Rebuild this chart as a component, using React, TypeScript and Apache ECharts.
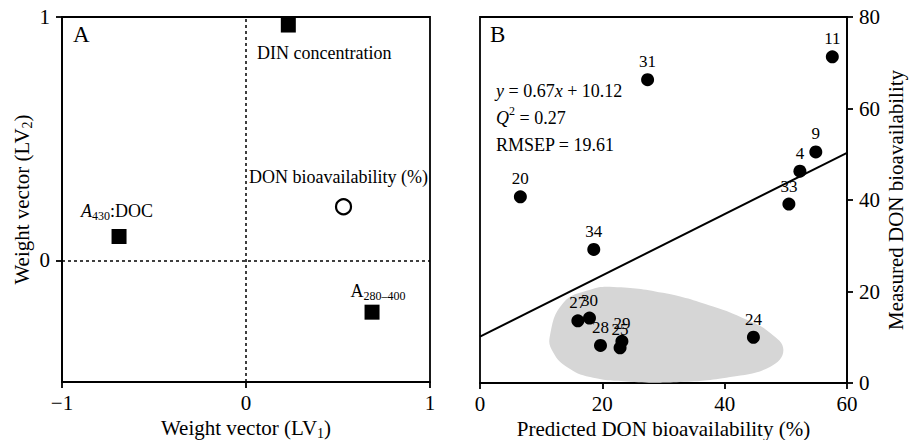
import React, { useEffect, useRef } from "react";
import * as echarts from "echarts";

const FONT = "'Liberation Serif', 'Times New Roman', Times, serif";

// Panel A: weight vectors
const sqNames = ["DIN concentration", "A430:DOC", "A280-400"];
const sqX = [0.23, -0.69, 0.685];
const sqY = [0.967, 0.098, -0.213];
const circX = [0.53];
const circY = [0.22];

// Panel B: predicted vs measured
const bLabels = ["11", "31", "9", "4", "33", "20", "34", "27", "30", "28", "29", "25", "24"];
const bX = [57.6, 27.4, 54.9, 52.3, 50.5, 6.6, 18.6, 16.0, 17.9, 19.7, 23.2, 22.9, 44.7];
const bY = [71.3, 66.3, 50.5, 46.3, 39.1, 40.7, 29.2, 13.6, 14.2, 8.2, 9.1, 7.7, 10.0];
const lineX = [0, 60];
const lineY = [10.12, 50.32];
const blobX = [11.4, 13.6, 18.0, 21.8, 29.9, 38.1, 43.6, 47.4, 49.6, 47.4, 40.9, 32.7, 24.5, 18.0, 14.2, 12.0];
const blobY = [10.1, 17.5, 20.4, 21.0, 19.7, 16.7, 13.8, 11.0, 7.2, 3.5, 1.3, 0.2, 0.3, 1.3, 3.5, 6.6];

const aXTicks = [-1, 0, 1];
const aYTicks = [0, 1];

const fmtNum = (v: number) => (v < 0 ? "\u2212" + Math.abs(v) : String(v));

export default function App() {
  const ref = useRef<HTMLDivElement>(null);
  useEffect(() => {
    if (!ref.current) return;
    const chart = echarts.init(ref.current, null, { renderer: "svg" });
    const axisLine = { show: true, onZero: false, lineStyle: { color: "#000", width: 1.8 } };
    const axisLabel = { color: "#000", fontFamily: FONT, fontSize: 21 };
    const nameStyle = {
      color: "#000",
      fontFamily: FONT,
      fontSize: 21,
      rich: {
        n: { fontFamily: FONT, fontSize: 21, color: "#000", lineHeight: 24 },
        sub: { fontFamily: FONT, fontSize: 14, color: "#000", lineHeight: 14, padding: [8, 0, 0, 0], verticalAlign: "bottom" },
      },
    };
    const plainName = { color: "#000", fontFamily: FONT, fontSize: 21 };
    const lblRich = {
      n: { fontFamily: FONT, fontSize: 18, color: "#000", lineHeight: 22 },
      i: { fontFamily: FONT, fontSize: 18, fontStyle: "italic", color: "#000", lineHeight: 22 },
      sub: { fontFamily: FONT, fontSize: 12, color: "#000", lineHeight: 12, padding: [8, 0, 0, 0], verticalAlign: "bottom" },
    };
    const sqLabels = [
      { text: "{n|DIN concentration}", position: "bottom", offset: [36, 4] },
      { text: "{i|A}{sub|430}{n|:DOC}", position: "top", offset: [-2, -2] },
      { text: "{n|A}{sub|280\u2013400}", position: "top", offset: [6, 2] },
    ];
    const tick = { show: true, length: 6, lineStyle: { color: "#000", width: 1.8 } };
    const option: any = {
      animation: false,
      grid: [
        { left: 62, top: 17, width: 368, height: 365, show: true, borderColor: "#000", borderWidth: 1.8, outerBoundsMode: "none", containLabel: false },
        { left: 480, top: 17, width: 367, height: 366, show: true, borderColor: "#000", borderWidth: 1.8, outerBoundsMode: "none", containLabel: false },
      ],
      xAxis: [
        {
          gridIndex: 0, type: "value", min: -1, max: 1, interval: 1,
          axisLine, splitLine: { show: false },
          axisTick: { ...tick, customValues: aXTicks },
          axisLabel: { ...axisLabel, margin: 10, customValues: aXTicks, formatter: (v: number) => fmtNum(v) },
          name: "{n|Weight vector (LV}{sub|1}{n|)}", nameLocation: "middle", nameGap: 33, nameTextStyle: nameStyle,
        },
        {
          gridIndex: 1, type: "value", min: 0, max: 60, interval: 20,
          axisLine, splitLine: { show: false },
          axisTick: tick,
          axisLabel: { ...axisLabel, margin: 10 },
          name: "Predicted DON bioavailability (%)", nameLocation: "middle", nameGap: 33, nameTextStyle: plainName,
        },
      ],
      yAxis: [
        {
          gridIndex: 0, type: "value", min: -0.5, max: 1, interval: 0.5,
          axisLine, splitLine: { show: false },
          axisTick: { ...tick, customValues: aYTicks },
          axisLabel: { ...axisLabel, margin: 12, customValues: aYTicks },
          name: "{n|Weight vector (LV}{sub|2}{n|)}", nameLocation: "middle", nameGap: 28, nameRotate: 90, nameTextStyle: nameStyle,
        },
        {
          gridIndex: 1, type: "value", min: 0, max: 80, interval: 20, position: "right",
          axisLine, splitLine: { show: false },
          axisTick: tick,
          axisLabel: { ...axisLabel, margin: 12 },
          name: "Measured DON bioavailability", nameLocation: "middle", nameGap: 38, nameRotate: 90,
          nameTextStyle: plainName,
        },
      ],
      series: [
        {
          type: "scatter", xAxisIndex: 0, yAxisIndex: 0, symbol: "rect", symbolSize: 15, z: 5,
          itemStyle: { color: "#000", opacity: 1 },
          data: sqX.map((x, i) => ({
            name: sqNames[i],
            value: [x, sqY[i]],
            label: {
              show: true, position: sqLabels[i].position, offset: sqLabels[i].offset,
              formatter: sqLabels[i].text, rich: lblRich,
            },
          })),
          markLine: {
            silent: true, symbol: "none", label: { show: false },
            lineStyle: { color: "#000", type: [3, 3], width: 1.5 },
            data: [{ xAxis: 0 }, { yAxis: 0 }],
          },
        },
        {
          type: "scatter", xAxisIndex: 0, yAxisIndex: 0, symbol: "circle", symbolSize: 15, z: 5,
          itemStyle: { color: "#fff", borderColor: "#000", borderWidth: 2.2, opacity: 1 },
          data: circX.map((x, i) => ({
            name: "DON bioavailability (%)",
            value: [x, circY[i]],
            label: {
              show: true, position: "top", offset: [-5, -5], formatter: "{n|DON bioavailability (%)}", rich: lblRich,
            },
          })),
        },
        {
          type: "custom", xAxisIndex: 1, yAxisIndex: 1, z: 1, silent: true,
          data: [[0, 0]],
          renderItem: (params: any, api: any) => {
            const pts = blobX.map((x, i) => api.coord([x, blobY[i]]));
            return { type: "polygon", shape: { points: pts, smooth: 0.45 }, style: { fill: "#d6d6d6" } };
          },
        },
        {
          type: "line", xAxisIndex: 1, yAxisIndex: 1, showSymbol: false, z: 3,
          lineStyle: { color: "#000", width: 2 },
          data: lineX.map((x, i) => [x, lineY[i]]),
        },
        {
          type: "scatter", xAxisIndex: 1, yAxisIndex: 1, symbol: "circle", symbolSize: 13, z: 5,
          itemStyle: { color: "#000", opacity: 1 },
          label: { show: true, position: "top", distance: 3, formatter: "{b}", color: "#000", fontFamily: FONT, fontSize: 17 },
          data: bX.map((x, i) => ({ name: bLabels[i], value: [x, bY[i]] })),
        },
      ],
      graphic: [
        { type: "text", left: 73, top: 23, style: { text: "A", fontFamily: FONT, fontSize: 23, fill: "#000" } },
        { type: "text", left: 490, top: 23, style: { text: "B", fontFamily: FONT, fontSize: 23, fill: "#000" } },
        {
          type: "text", left: 496, top: 82,
          style: {
            text: "{i|y}{n| = 0.67}{i|x}{n| + 10.12}\n{i|Q}{sup|2}{n| = 0.27}\n{n|RMSEP = 19.61}",
            rich: {
              n: { fontFamily: FONT, fontSize: 18, fill: "#000", lineHeight: 27 },
              i: { fontFamily: FONT, fontSize: 18, fontStyle: "italic", fill: "#000", lineHeight: 27 },
              sup: { fontFamily: FONT, fontSize: 12, fill: "#000", lineHeight: 12, padding: [0, 0, 10, 0], verticalAlign: "top" },
            },
          },
        },
      ],
    };
    chart.setOption(option);
    return () => chart.dispose();
  }, []);
  return <div ref={ref} style={{ position: "absolute", left: 0, top: 0, width: 909, height: 440, background: "#fff" }} />;
}
